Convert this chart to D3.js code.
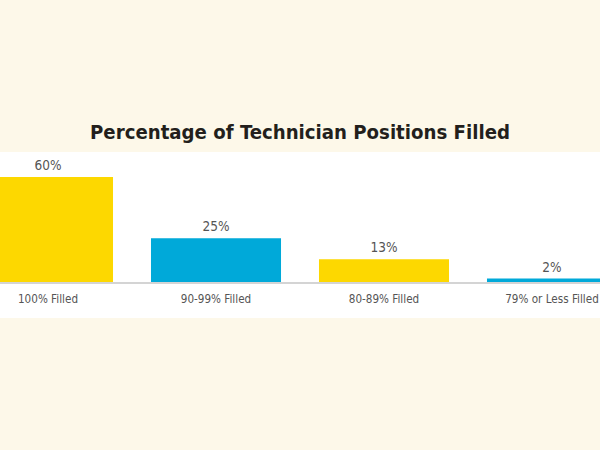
<!DOCTYPE html>
<html><head><meta charset="utf-8">
<script src="https://cdn.jsdelivr.net/npm/d3@7"></script>
<style>
html,body{margin:0;padding:0;background:#fdf8e9;}
svg{display:block;}
</style></head>
<body>
<svg id="chart" width="600" height="450"></svg>
<script>
const title = "Percentage of Technician Positions Filled";
const categories = ["100% Filled", "90-99% Filled", "80-89% Filled", "79% or Less Filled"];
const values = [60, 25, 13, 2];
const valueLabels = ["60%", "25%", "13%", "2%"];
const colors = ["#fdd800", "#00a9d9", "#fdd800", "#00a9d9"];

const svg = d3.select("#chart");
const W = 600, H = 450;
const baseY = 282;

svg.append("rect").attr("x",0).attr("y",0).attr("width",W).attr("height",H).attr("fill","#fdf8e9");
svg.append("rect").attr("x",0).attr("y",152).attr("width",W).attr("height",166).attr("fill","#ffffff");

const x = d3.scaleBand().domain(categories).range([-36, 636]).paddingInner(0.226).paddingOuter(0.113);
const y = d3.scaleLinear().domain([0, 60]).range([baseY, 177]);

svg.append("line").attr("x1",0).attr("x2",W).attr("y1",baseY+1).attr("y2",baseY+1)
  .attr("stroke","#d4d4d4").attr("stroke-width",2);

svg.selectAll("rect.bar").data(values).join("rect").attr("class","bar")
  .attr("x",(d,i)=>x(categories[i]))
  .attr("width",x.bandwidth())
  .attr("y",d=>y(d))
  .attr("height",d=>baseY-y(d))
  .attr("fill",(d,i)=>colors[i]);

const font = "'DejaVu Sans Condensed', 'Liberation Sans Narrow', sans-serif";

svg.selectAll("text.val").data(values).join("text").attr("class","val")
  .attr("x",(d,i)=>x(categories[i])+x.bandwidth()/2)
  .attr("y",d=>y(d)-7)
  .attr("text-anchor","middle")
  .attr("font-family",font).attr("font-size",13.5).attr("fill","#555")
  .text((d,i)=>valueLabels[i]);

svg.selectAll("text.cat").data(categories).join("text").attr("class","cat")
  .attr("x",d=>x(d)+x.bandwidth()/2)
  .attr("y",303)
  .attr("text-anchor","middle")
  .attr("font-family",font).attr("font-size",11.6).attr("fill","#555")
  .text(d=>d);

svg.append("text").attr("x",300).attr("y",139).attr("text-anchor","middle")
  .attr("font-family",font).attr("font-weight","bold").attr("font-size",20.2).attr("fill","#231f1c")
  .text(title);
</script>
</body></html>
